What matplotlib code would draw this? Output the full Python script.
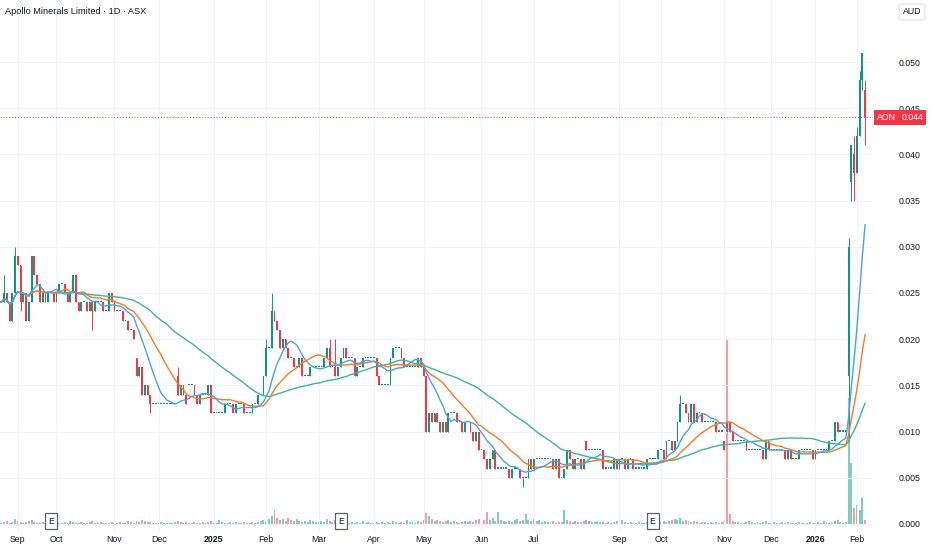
import matplotlib.pyplot as plt
import matplotlib.transforms as mtransforms
import numpy as np
import pandas as pd

# daily closes in thousandths of AUD (ASX tick size 0.001)
closes = [
    24, 24, 25, 24, 22, 25, 29, 28, 24, 25,
    22, 24, 29, 27, 26, 24, 25, 24, 25, 25,
    24, 25, 26, 26, 25, 24, 25, 27, 24, 23,
    24, 24, 23, 24, 23, 24, 24, 24, 23, 23,
    25, 24, 23, 23, 23, 22, 22, 21, 21, 20,
    16, 17, 14, 15, 14, 13, 13, 13, 13, 13,
    13, 13, 13, 13, 13, 14, 15, 14, 13, 15,
    15, 14, 13, 14, 14, 14, 15, 12, 12, 12,
    12, 12, 13, 13, 13, 12, 13, 13, 13, 12,
    12, 12, 13, 13, 14, 14, 16, 19, 19, 23,
    22, 21, 19, 20, 19, 18, 18, 17, 17, 18,
    16, 16, 16, 17, 17, 17, 17, 17, 18, 19,
    17, 17, 16, 17, 18, 19, 18, 18, 18, 16,
    17, 17, 18, 18, 18, 18, 18, 16, 15, 15,
    15, 15, 18, 19, 19, 19, 18, 17, 17, 17,
    17, 17, 18, 17, 16, 10, 12, 11, 12, 11,
    10, 11, 10, 12, 12, 12, 11, 11, 10, 11,
    11, 10, 9, 10, 8, 8, 7, 6, 7, 8,
    6, 6, 6, 6, 6, 5, 6, 6, 6, 5,
    5, 5, 7, 6, 7, 7, 7, 7, 7, 7,
    7, 6, 7, 5, 5, 6, 8, 7, 6, 7,
    7, 6, 7, 8, 8, 8, 8, 8, 8, 6,
    6, 6, 6, 7, 6, 7, 7, 6, 7, 7,
    6, 6, 6, 6, 6, 7, 7, 7, 7, 8,
    8, 7, 9, 9, 8, 9, 11, 13, 13, 12,
    11, 13, 11, 12, 12, 11, 11, 11, 11, 11,
    10, 10, 10, 8, 10, 10, 9, 9, 9, 9,
    9, 8, 8, 8, 8, 8, 8, 7, 9, 8,
    8, 8, 8, 8, 8, 7, 8, 7, 7, 7,
    8, 8, 8, 8, 8, 7, 8, 8, 8, 8,
    8, 9, 9, 11, 10, 10, 10, 10, 30, 41,
    38, 42, 48, 51, 44,
]

# opens that differ from the previous close
open_gaps = {50: 18, 65: 16, 69: 15, 213: 9, 263: 9, 264: 11, 265: 11,
             308: 16, 309: 37, 310: 40, 311: 38, 312: 42, 313: 48, 314: 47}
# wick extremes
highs = {2: 27, 6: 30, 12: 29, 65: 17, 97: 20, 99: 25, 120: 20, 122: 20,
         146: 19, 247: 14, 308: 31, 309: 41, 310: 42, 311: 43, 312: 49,
         313: 51, 314: 48}
lows = {8: 23, 34: 21, 55: 12, 155: 10, 190: 4, 308: 9, 309: 35, 310: 35,
        313: 47, 314: 41}

volumes = [
    2, 1, 2, 3, 1, 2, 5, 3, 2, 1,
    2, 3, 4, 2, 1, 1, 2, 1, 3, 2,
    1, 2, 1, 1, 2, 1, 3, 2, 1, 1,
    2, 1, 1, 2, 3, 1, 1, 2, 1, 1,
    1, 2, 1, 1, 2, 1, 1, 3, 2, 1,
    3, 2, 4, 3, 2, 2, 1, 1, 1, 2,
    1, 1, 1, 1, 2, 3, 2, 1, 2, 1,
    1, 2, 1, 1, 2, 1, 2, 3, 1, 1,
    4, 2, 1, 1, 2, 1, 2, 1, 1, 2,
    1, 1, 2, 1, 2, 3, 4, 3, 5, 8,
    14, 6, 4, 5, 3, 6, 4, 3, 5, 3,
    2, 3, 2, 4, 3, 2, 2, 3, 2, 5,
    3, 2, 4, 2, 3, 1, 2, 1, 2, 1,
    2, 1, 3, 1, 2, 1, 1, 2, 1, 2,
    1, 2, 1, 3, 2, 1, 2, 1, 4, 2,
    2, 1, 3, 2, 4, 11, 8, 5, 3, 4,
    3, 2, 3, 4, 2, 3, 2, 1, 2, 3,
    2, 3, 2, 4, 5, 3, 4, 12, 4, 6,
    3, 12, 4, 3, 2, 3, 2, 4, 5, 3,
    4, 10, 4, 3, 5, 3, 4, 2, 3, 2,
    2, 3, 1, 2, 2, 14, 4, 3, 2, 3,
    2, 2, 3, 4, 3, 2, 2, 3, 2, 2,
    1, 2, 1, 2, 3, 2, 4, 2, 1, 2,
    1, 1, 2, 1, 1, 2, 1, 2, 1, 3,
    2, 3, 2, 3, 4, 5, 4, 6, 3, 4,
    3, 2, 3, 2, 1, 2, 2, 1, 2, 1,
    2, 1, 2, 3, 184, 10, 3, 2, 2, 1,
    1, 2, 3, 2, 1, 2, 1, 2, 3, 1,
    1, 2, 1, 1, 2, 1, 2, 1, 1, 1,
    2, 1, 1, 1, 2, 1, 1, 2, 1, 3,
    2, 1, 1, 3, 4, 2, 1, 2, 126, 61,
    16, 19, 14, 26, 4,
]

month_labels = ["Sep", "Oct", "Nov", "Dec", "2025", "Feb", "Mar", "Apr", "May",
                "Jun", "Jul", "Sep", "Oct", "Nov", "Dec", "2026", "Feb"]
month_idx = [7, 21, 42, 58, 78, 97, 116, 136, 154, 175, 194, 225, 240, 263,
             280, 296, 311]
earnings_idx = [19, 124, 237]
last_price = 0.044

GREEN = "#089981"
RED = "#F23645"
TXT = "#131722"
GRID = "#f0f3fa"

c = np.array(closes) / 1000
o = np.r_[c[0], c[:-1]]
for k, v in open_gaps.items():
    o[k] = v / 1000
hi = np.maximum(o, c)
lo = np.minimum(o, c)
for k, v in highs.items():
    hi[k] = max(hi[k], v / 1000)
for k, v in lows.items():
    lo[k] = min(lo[k], v / 1000)
x = np.arange(len(c))
up = c >= o
cols = np.where(up, GREEN, RED)

s = pd.Series(c)
ma10 = s.rolling(10, min_periods=1).mean()
ma20 = s.rolling(20, min_periods=1).mean()
ma50 = s.rolling(50, min_periods=1).mean()

plt.rcParams['font.family'] = ['Liberation Sans', 'DejaVu Sans']

fig = plt.figure(figsize=(9.32, 5.5), dpi=100)
ax = fig.add_axes([0, 18 / 550, 873 / 932, 532 / 550])
ax2 = ax.twinx()

# volume underneath
vcols = [(8/255, 153/255, 129/255, 0.5) if u else (242/255, 54/255, 69/255, 0.5) for u in up]
ax2.bar(x, volumes, width=0.7, color=vcols, linewidth=0)
ax2.set_ylim(-8, 524)
ax2.set_yticks([])
for sp in ax2.spines.values():
    sp.set_visible(False)
ax.set_zorder(ax2.get_zorder() + 1)
ax.patch.set_visible(False)

# candles
body = np.maximum(np.abs(c - o), 0.00012)
ax.vlines(x, lo, hi, colors=cols, lw=0.7, zorder=3)
ax.bar(x, body, bottom=np.minimum(o, c), width=0.65, color=cols, linewidth=0, zorder=4)

ax.plot(x, ma50, color="#3fb596", lw=1.0, zorder=5)
ax.plot(x, ma20, color="#f07c2a", lw=1.0, zorder=5)
ax.plot(x, ma10, color="#4e9fe5", lw=1.0, zorder=5)

ax.axhline(last_price, color=RED, lw=0.7, ls=(0, (1, 2)), zorder=2)

ax.set_xlim(0.543, 316.85)
ax.set_ylim(-0.000866, 0.05671)

ax.yaxis.tick_right()
yt = np.arange(0, 0.0501, 0.005)
ax.set_yticks(yt)
ax.set_yticklabels([f"{v:.3f}" for v in yt])
ax.tick_params(axis='y', length=0, pad=18.5, labelsize=6.3, labelcolor=TXT)
ax.set_xticks(month_idx)
ax.set_xticklabels(month_labels)
ax.tick_params(axis='x', length=0, pad=2.5, labelsize=6.3, labelcolor=TXT)
for lab in ax.get_xticklabels():
    if lab.get_text().isdigit():
        lab.set_fontweight('bold')
ax.grid(True, color=GRID, lw=0.8, zorder=0)
ax.set_axisbelow(True)
for sp in ax.spines.values():
    sp.set_visible(False)

# earnings markers
tr = mtransforms.blended_transform_factory(ax.transData, ax.transAxes)
for e in earnings_idx:
    ax.text(e, 11 / 532, "E", transform=tr, ha='center', va='center', fontsize=6.3,
            color=TXT, zorder=6,
            bbox=dict(boxstyle='square,pad=0.35', fc='white', ec='#5d606b', lw=0.9))

# last price labels
trf = mtransforms.blended_transform_factory(fig.transFigure, ax.transData)
ax.text(886.5 / 932, last_price, "AON", transform=trf, ha='center', va='center',
        fontsize=6.3, color='white', clip_on=False,
        bbox=dict(boxstyle='square,pad=0.3', fc=RED, ec='none'))
ax.text(912.5 / 932, last_price, f"{last_price:.3f}", transform=trf, ha='center',
        va='center', fontsize=6.3, color='white', clip_on=False,
        bbox=dict(boxstyle='square,pad=0.3', fc=RED, ec='none'))

fig.text(5 / 932, 1 - 12 / 550, "Apollo Minerals Limited · 1D · ASX", fontsize=6.6,
         color=TXT, ha='left', va='center')
fig.text(912 / 932, 1 - 12 / 550, "AUD", fontsize=6.3, color=TXT, ha='center', va='center',
         bbox=dict(boxstyle='round,pad=0.4,rounding_size=0.3', fc='white', ec='#e0e3eb', lw=0.8))

fig.savefig("out.png", dpi=100)
